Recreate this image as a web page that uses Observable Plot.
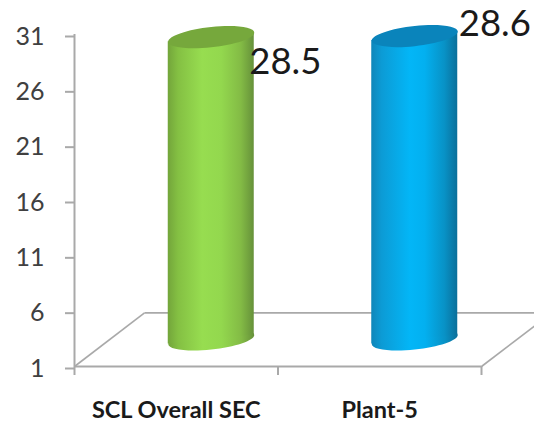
<!DOCTYPE html>
<html>
<head>
<meta charset="utf-8">
<script src="https://cdn.jsdelivr.net/npm/d3@7"></script>
<script src="https://cdn.jsdelivr.net/npm/@observablehq/plot@0.6"></script>
<style>
  html, body { margin: 0; padding: 0; background: #fff; overflow: hidden; }
</style>
</head>
<body>
<div id="chart"></div>
<script>
const categories = ["SCL Overall SEC", "Plant-5"];
const values = [28.5, 28.6];
const yTicks = [1, 6, 11, 16, 21, 26, 31];
const labelOffsets = [[38, 0], [44, -37]];
const bodyStops = [
  [["0%", "#73a53b"], ["12%", "#84c043"], ["40%", "#97dd50"], ["62%", "#93d84e"], ["85%", "#83bb45"], ["100%", "#66913a"]],
  [["0%", "#0f86b9"], ["12%", "#0c9bd5"], ["45%", "#03b6f7"], ["62%", "#03b0f0"], ["85%", "#0892c6"], ["100%", "#0b6f9a"]]
];
const capColors = ["#76a83c", "#0a84bb"];

const axisGray = "#a9a9a9";
const depth = { x: 35, y: -26 };
const barHalfWidth = 0.2113;
const shear = -0.105;

// Oblique ellipse used for the cylinder ends; the radius comes from the dot's size.
const tiltedEllipse = {
  draw(ctx, size) {
    const rx = Math.sqrt(size / Math.PI);
    const ry = rx * 0.235;
    const k = 0.5523;
    const pt = (a, b) => [a * rx, b * ry + shear * a * rx];
    const seg = (c1, c2, e) => ctx.bezierCurveTo(...pt(...c1), ...pt(...c2), ...pt(...e));
    ctx.moveTo(...pt(1, 0));
    seg([1, k], [k, 1], [0, 1]);
    seg([-k, 1], [-1, k], [-1, 0]);
    seg([-1, -k], [-k, -1], [0, -1]);
    seg([k, -1], [1, -k], [1, 0]);
    ctx.closePath();
  }
};

// Skews a rect about its centre so its ends line up with the tilted ellipses.
function skewBody(index, scales, values, dimensions, context, next) {
  const g = next(index, scales, values, dimensions, context);
  d3.select(g).selectAll("rect").attr("transform", function () {
    const cx = +this.getAttribute("x") + this.getAttribute("width") / 2;
    return `translate(${cx},0) skewY(${Math.atan(shear) * 180 / Math.PI}) translate(${-cx},0)`;
  });
  return g;
}

function gradients() {
  const defs = d3.create("svg:defs");
  bodyStops.forEach((stops, i) => {
    const g = defs.append("linearGradient").attr("id", `body${i}`)
      .attr("x1", 0).attr("x2", 1).attr("y1", 0).attr("y2", 0);
    stops.forEach(([offset, color]) => g.append("stop").attr("offset", offset).attr("stop-color", color));
  });
  return defs.node();
}

const cylinders = categories.flatMap((name, i) => {
  const row = [{ x: i + 0.5, value: values[i] }];
  const fill = `url(#body${i})`;
  return [
    Plot.dot(row, { x: "x", y: () => 1, r: 43, symbol: tiltedEllipse, fill, stroke: "none", dx: depth.x, dy: depth.y - 1 }),
    Plot.rectY(row, {
      x1: d => d.x - barHalfWidth, x2: d => d.x + barHalfWidth, y1: () => 1, y2: "value",
      fill, dx: depth.x, dy: depth.y, insetTop: 1, insetBottom: 1, render: skewBody
    }),
    Plot.dot(row, { x: "x", y: "value", r: 43, symbol: tiltedEllipse, fill: capColors[i], stroke: "none", dx: depth.x, dy: depth.y + 1 })
  ];
});

const valueLabels = categories.map((name, i) => Plot.text([{ x: i + 0.5, value: values[i] }], {
  x: "x", y: "value", text: d => d.value.toFixed(1),
  dx: depth.x + labelOffsets[i][0], dy: labelOffsets[i][1],
  textAnchor: "start", fontSize: 36.5, fill: "#1a1a1a"
}));

const chart = Plot.plot({
  width: 534,
  height: 422,
  marginLeft: 74,
  marginRight: 53,
  marginTop: 34,
  marginBottom: 56,
  style: { fontFamily: "Lato, sans-serif", background: "#fff" },
  x: { domain: [0, 2] },
  y: { domain: [1, 31] },
  marks: [
    gradients,
    // floor of the 3D plot area
    Plot.link([
      { x1: 0, y1: 1, x2: 0.344, y2: 5.85 },
      { x1: 2, y1: 1, x2: 2.26, y2: 4.65 },
      { x1: 0.344, y1: 5.85, x2: 2.26, y2: 5.85 }
    ], { x1: "x1", y1: "y1", x2: "x2", y2: "y2", stroke: axisGray, strokeWidth: 1.6 }),
    Plot.ruleX([0], { stroke: axisGray, strokeWidth: 2 }),
    Plot.ruleY([1], { stroke: axisGray, strokeWidth: 2 }),
    Plot.axisY({
      ticks: yTicks, tickSize: 9, tickPadding: 21, fontSize: 25, color: "#404040", dy: 2,
      stroke: axisGray, strokeWidth: 2, label: null, tickFormat: d => d
    }),
    Plot.axisX({
      ticks: [0, 1, 2], tickSize: 9, stroke: axisGray, strokeWidth: 2,
      tickFormat: () => "", label: null
    }),
    Plot.axisX({
      ticks: categories.map((_, i) => i + 0.5), tickSize: 0, tickPadding: 35,
      tickFormat: d => categories[d - 0.5], fontSize: 23.5, fontWeight: 700,
      fill: "#1a1a1a", label: null
    }),
    ...cylinders,
    ...valueLabels
  ]
});

document.getElementById("chart").appendChild(chart);
</script>
</body>
</html>
